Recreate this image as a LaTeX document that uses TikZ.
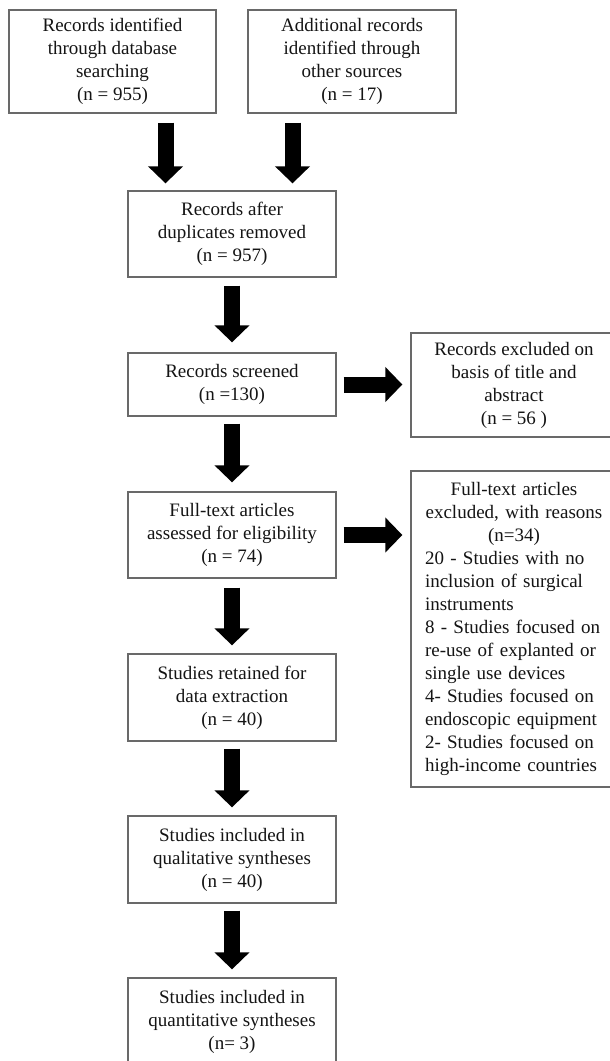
\documentclass[tikz,border=0pt]{standalone}
\usepackage{fontspec}
\setmainfont{Liberation Serif}
\usetikzlibrary{arrows.meta}
\definecolor{boxline}{RGB}{105,105,105}
\definecolor{txt}{RGB}{20,20,20}
\tikzset{
  box/.style={draw=boxline, line width=1.3pt, fill=white, inner sep=0pt,
    align=center, text=txt, font=\fontsize{19}{23}\selectfont},
  fatarrow/.style={draw=black, line width=16pt,
    -{Triangle[width=34pt,length=17pt]}},
}
\begin{document}
\begin{tikzpicture}[x=1pt,y=-1pt]
\useasboundingbox (0,0) rectangle (610,1061);
\clip (0,0) rectangle (610,1061);
\fill[white] (0,0) rectangle (610,1061);

\node[box, minimum width=207pt, minimum height=103pt] (b1) at (112.5,61.5)
  {Records identified\\through database\\searching\\(n = 955)};
\node[box, minimum width=208pt, minimum height=103pt] (b2) at (352,61.5)
  {Additional records\\identified through\\other sources\\(n = 17)};
\node[box, minimum width=208pt, minimum height=86pt] (b3) at (232,234)
  {Records after\\duplicates removed\\(n = 957)};
\node[box, minimum width=208pt, minimum height=63pt] (b4) at (232,384.5)
  {Records screened\\(n =130)};
\node[box, minimum width=206pt, minimum height=104pt] (b5) at (514,385)
  {Records excluded on\\basis of title and\\abstract\\(n = 56 )};
\node[box, minimum width=206pt, minimum height=316pt, text width=178pt, align=left] (b7) at (514,629)
  {\hyphenpenalty=10000 \exhyphenpenalty=10000
   \makebox[\linewidth][c]{Full-text articles}\\
   \makebox[\linewidth][c]{excluded, with reasons}\\
   \makebox[\linewidth][c]{(n=34)}\\
   20 - Studies with no\\
   inclusion of surgical\\
   instruments\\
   8 - Studies focused on\\
   re-use of explanted or\\
   single use devices\\
   4- Studies focused on\\
   endoscopic equipment\\
   2- Studies focused on\\
   high-income countries};
\node[box, minimum width=208pt, minimum height=86pt] (b6) at (232,535)
  {Full-text articles\\assessed for eligibility\\(n = 74)};
\node[box, minimum width=208pt, minimum height=87pt] (b8) at (232,697.5)
  {Studies retained for\\data extraction\\(n = 40)};
\node[box, minimum width=208pt, minimum height=87pt] (b9) at (232,859.5)
  {Studies included in\\qualitative syntheses\\(n = 40)};
\node[box, minimum width=208pt, minimum height=87pt] (b10) at (232,1021.5)
  {Studies included in\\quantitative syntheses\\(n= 3)};

\draw[fatarrow, shorten <=9pt, shorten >=7pt]
  ([xshift=53pt]b1.south) -- ([xshift=53pt]b1.south |- b3.north);
\draw[fatarrow, shorten <=9pt, shorten >=7pt]
  ([xshift=-59.5pt]b2.south) -- ([xshift=-59.5pt]b2.south |- b3.north);
\draw[fatarrow, shorten <=8pt, shorten >=10pt] (b3.south) -- (b4.north);
\draw[fatarrow, shorten <=7pt, shorten >=8pt] (b4.east) -- (b4.east -| b5.west);
\draw[fatarrow, shorten <=7pt, shorten >=9pt] (b4.south) -- (b6.north);
\draw[fatarrow, shorten <=7pt, shorten >=8pt] (b6.east) -- (b6.east -| b7.west);
\draw[fatarrow, shorten <=9pt, shorten >=8pt] (b6.south) -- (b8.north);
\draw[fatarrow, shorten <=7pt, shorten >=8pt] (b8.south) -- (b9.north);
\draw[fatarrow, shorten <=7pt, shorten >=8pt] (b9.south) -- (b10.north);
\end{tikzpicture}
\end{document}
